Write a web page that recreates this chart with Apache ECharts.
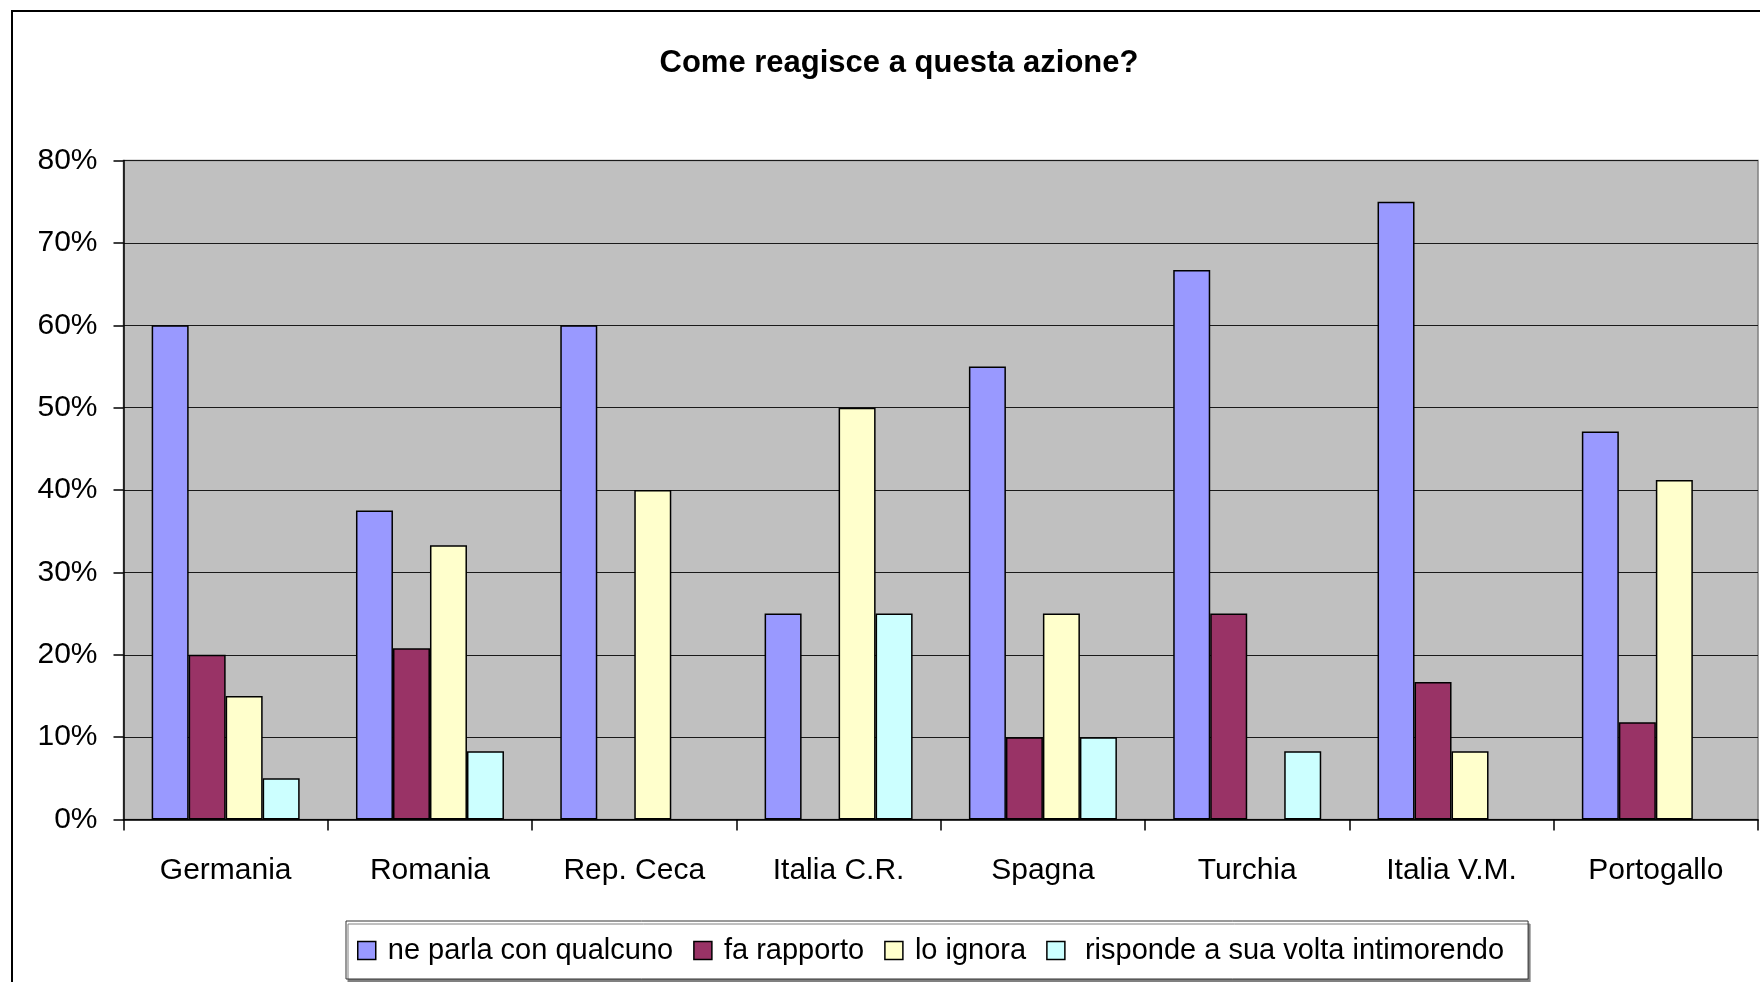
<!DOCTYPE html>
<html>
<head>
<meta charset="utf-8">
<script src="https://cdn.jsdelivr.net/npm/echarts@6/dist/echarts.min.js"></script>
<style>
html,body{margin:0;padding:0;background:#fff;}
#chart{width:1760px;height:982px;}
</style>
</head>
<body>
<div id="chart"></div>
<script>
var titleText = 'Come reagisce a questa azione?';
var categories = ['Germania', 'Romania', 'Rep. Ceca', 'Italia C.R.', 'Spagna', 'Turchia', 'Italia V.M.', 'Portogallo'];
var seriesNames = ['ne parla con qualcuno', 'fa rapporto', 'lo ignora', 'risponde a sua volta intimorendo'];
var neParla = [60, 37.5, 60, 25, 55, 66.7, 75, 47.1];
var faRapporto = [20, 20.8, 0, 0, 10, 25, 16.7, 11.8];
var loIgnora = [15, 33.3, 40, 50, 25, 0, 8.3, 41.2];
var risponde = [5, 8.3, 0, 25, 10, 8.3, 0, 0];
var yTicks = [0, 10, 20, 30, 40, 50, 60, 70, 80];

var colors = ['#9999FF', '#993366', '#FFFFCC', '#CCFFFF'];
var values = [neParla, faRapporto, loIgnora, risponde];
var FONT = '"Liberation Sans", Arial, sans-serif';

var chart = echarts.init(document.getElementById('chart'), null, {renderer: 'canvas'});

var series = values.map(function (arr, i) {
  return {
    name: seriesNames[i],
    type: 'bar',
    data: arr.map(function (v) { return v === 0 ? '-' : v; }),
    barWidth: 37,
    barGap: '0%',
    itemStyle: { color: colors[i], borderColor: '#000', borderWidth: 1.5 },
    emphasis: { disabled: true },
    animation: false
  };
});

chart.setOption({
  animation: false,
  backgroundColor: '#fff',
  textStyle: { fontFamily: FONT },
  graphic: [{
    type: 'rect',
    shape: { x: 12, y: 11, width: 1800, height: 1000 },
    style: { fill: 'none', stroke: '#000', lineWidth: 2 },
    silent: true,
    z: 100
  }],
  title: {
    text: titleText,
    left: 894,
    top: 43,
    textAlign: 'center',
    textStyle: { fontFamily: FONT, fontWeight: 'bold', fontSize: 31, color: '#000' }
  },
  legend: {
    data: seriesNames,
    left: 346,
    top: 921,
    padding: [15, 24, 14, 11],
    itemWidth: 18,
    itemHeight: 18,
    itemGap: 20,
    icon: 'rect',
    backgroundColor: '#fff',
    borderColor: '#333',
    borderWidth: 1,
    shadowColor: '#808080',
    shadowOffsetX: 2,
    shadowOffsetY: 3,
    shadowBlur: 0,
    formatter: function (name) { return name === seriesNames[3] ? ' ' + name : name; },
    itemStyle: { borderColor: '#000', borderWidth: 1.5 },
    textStyle: { fontFamily: FONT, fontSize: 29, color: '#000', padding: [0, 0, 0, 7] }
  },
  grid: {
    left: 123.5,
    top: 160.5,
    right: 2,
    bottom: 162.5,
    show: true,
    backgroundColor: '#C0C0C0',
    borderColor: '#808080',
    borderWidth: 1.5
  },
  xAxis: {
    type: 'category',
    data: categories,
    axisLine: { show: true, lineStyle: { color: '#000', width: 1.5 } },
    axisTick: { show: true, length: 11, alignWithLabel: false, lineStyle: { color: '#000', width: 1.5 } },
    axisLabel: { fontFamily: FONT, fontSize: 30, color: '#000', margin: 36, interval: 0 },
    splitLine: { show: false }
  },
  yAxis: {
    type: 'value',
    min: yTicks[0],
    max: yTicks[yTicks.length - 1],
    interval: yTicks[1] - yTicks[0],
    axisLine: { show: true, lineStyle: { color: '#000', width: 1.5 } },
    axisTick: { show: true, length: 10, lineStyle: { color: '#000', width: 1.5 } },
    axisLabel: { fontFamily: FONT, fontSize: 30, color: '#000', margin: 26, formatter: '{value}%' },
    splitLine: { show: true, lineStyle: { color: '#1a1a1a', width: 1.2 } }
  },
  series: series
});
</script>
</body>
</html>
